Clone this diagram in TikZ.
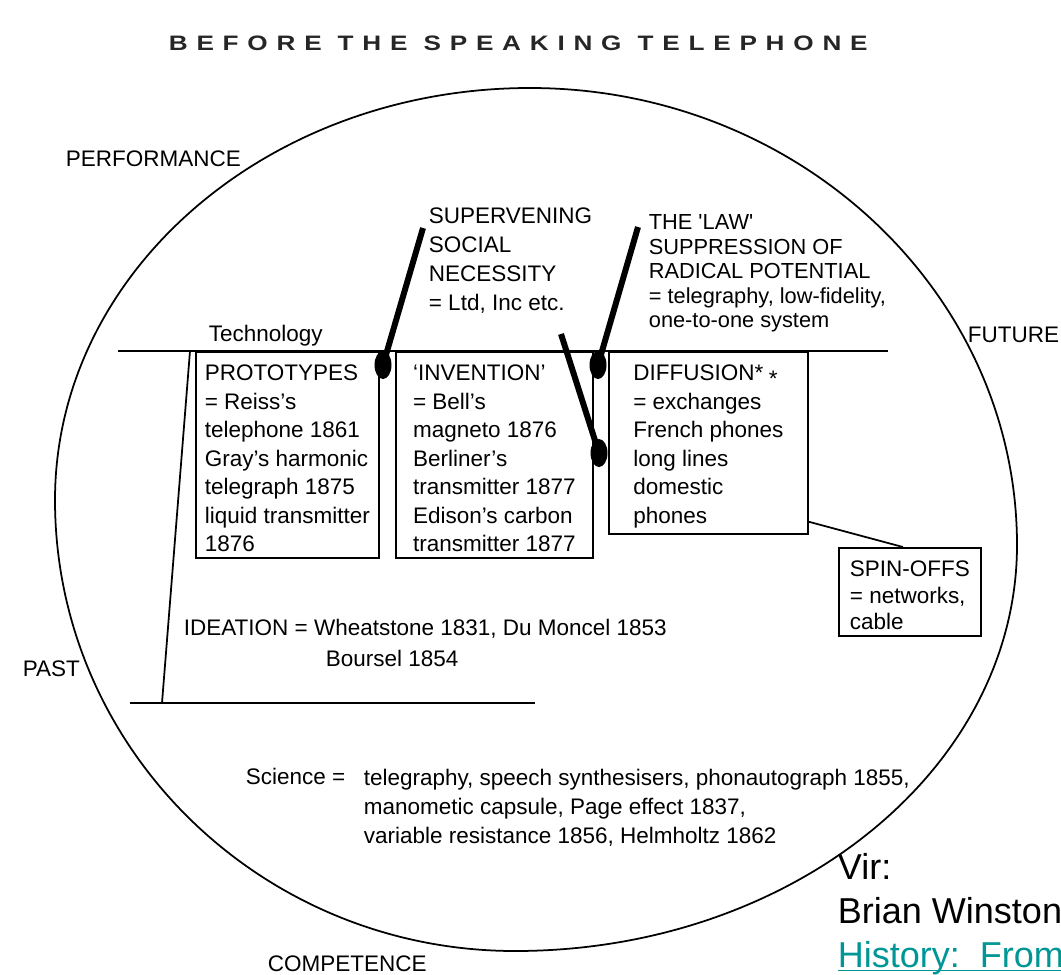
\documentclass[tikz,border=0pt]{standalone}
\usepackage{fontspec}
\setmainfont{Liberation Sans}
\newfontfamily\titlefont[FakeStretch=1.25,LetterSpace=42]{Liberation Sans Bold}
\usepackage{xcolor}
\usepackage{tikz}
\usetikzlibrary{shapes}
\definecolor{virteal}{RGB}{0,150,150}
\newcommand{\boxstrut}{\rule{0pt}{0.46cm}}
\tikzstyle{txt}=[inner sep=0pt, align=left,% plain text, no frame
font=\fontsize{12.8}{16.5}\selectfont]
\tikzstyle{blk}=[draw, line width=1pt, align=left, anchor=north west,% framed stage
inner xsep=0pt, inner ysep=0.12cm, font=\fontsize{12.8}{16.2}\selectfont]
\tikzstyle{dotblk}=[ellipse, fill=black, inner sep=0pt, minimum width=0.34cm, minimum height=0.56cm]
\tikzstyle{stick}=[line width=3.4pt]

\begin{document}
\begin{tikzpicture}[x=0.02cm, y=-0.02cm, line width=1pt]
\useasboundingbox (0,0) rectangle (1061,974);
% heading
\node[txt, anchor=base west, text=black!85, font=\titlefont\fontsize{11.9}{14}\selectfont] (title) at (168,50) {BEFORE THE SPEAKING TELEPHONE};
% outer ring
\coordinate (rimN) at (530,88);
\coordinate (rimE) at (1017,545);
\coordinate (rimS) at (515,951);
\coordinate (rimW) at (55,500);
\draw (rimN) .. controls (799,88) and (1017,293) .. (rimE)
  .. controls (1017,769) and (792,951) .. (rimS)
  .. controls (261,951) and (55,749) .. (rimW)
  .. controls (55,272) and (268,88) .. (rimN) -- cycle;
\node[txt, anchor=base west] (perf) at (65,166) {PERFORMANCE};
\node[txt, anchor=base west] (future) at (967,342) {FUTURE};
\node[txt, anchor=base west] (past) at (22,676) {PAST};
\node[txt, anchor=base west] (comp) at (267,971) {COMPETENCE};
% technology level
\coordinate (techL) at (118,351);
\coordinate (techR) at (888,351);
\draw (techL) -- (techR);
\node[txt, anchor=base west] (tech) at (208,341) {Technology};
\node[blk, minimum width=3.66cm] (proto) at (195,351) {\boxstrut PROTOTYPES\\= Reiss's\\telephone 1861\\Gray's harmonic\\telegraph 1875\\liquid transmitter\\1876};
\node[blk, minimum width=3.94cm] (invent) at (395,351) {\boxstrut `INVENTION'\\= Bell's\\magneto 1876\\Berliner's\\transmitter 1877\\Edison's carbon\\transmitter 1877};
\node[blk, minimum width=3.98cm] (diffuse) at (608,351) {\boxstrut DIFFUSION*\hspace{0.25em}\raisebox{-0.5ex}{*}\\= exchanges\\French phones\\long lines\\domestic\\phones};
\node[blk, minimum width=2.84cm, font=\fontsize{12.8}{15}\selectfont] (spinoff) at (838,547) {\boxstrut SPIN-OFFS\\= networks,\\cable};
\draw ([yshift=0.26cm]diffuse.south east) -- ([xshift=-0.14cm]spinoff.north);
% accelerators and brake
\node[dotblk] (k1) at (383,365) {};
\node[dotblk] (k2) at (598,365) {};
\node[dotblk] (k3) at (599,453) {};
\coordinate (k1top) at (423,228);
\coordinate (k2top) at (638,227);
\coordinate (k3top) at (561,334);
\draw[stick] (k1top) -- (k1.center);
\draw[stick] (k2top) -- (k2.center);
\draw[stick] (k3top) -- (k3.center);
\node[txt, anchor=north west] (ssn) at (428,207) {SUPERVENING\\SOCIAL\\NECESSITY\\= Ltd, Inc etc.};
\node[txt, anchor=north west, font=\fontsize{12.4}{13.9}\selectfont] (law) at (648,214) {THE \textquotesingle LAW\textquotesingle\\SUPPRESSION OF\\RADICAL POTENTIAL\\= telegraphy, low-fidelity,\\one-to-one system};
% ideation level
\coordinate (idTop) at (190,351);
\coordinate (idBot) at (162,703);
\coordinate (idL) at (130,703);
\coordinate (idR) at (535,703);
\draw (idTop) -- (idBot);
\draw (idL) -- (idR);
\node[txt, anchor=base west] (idea) at (183,635) {IDEATION = Wheatstone 1831, Du Moncel 1853};
\node[txt, anchor=base west] (bours) at (325,666) {Boursel 1854};
% science level
\node[txt, anchor=base west] (sci) at (245,784) {Science =};
\node[txt, anchor=north west] (scilist) at (363,768) {telegraphy, speech synthesisers, phonautograph 1855,\\manometic capsule, Page effect 1837,\\variable resistance 1856, Helmholtz 1862};
% source note
\begin{scope}
\clip (0,0) rectangle (1061,974);
\node[txt, anchor=north west, font=\fontsize{20.5}{25}\selectfont] (vir) at (837,853) {Vir:\\Brian Winston\\\textcolor{virteal}{\underline{\smash{History:\ \ From}}}};
\end{scope}
\end{tikzpicture}
\end{document}
